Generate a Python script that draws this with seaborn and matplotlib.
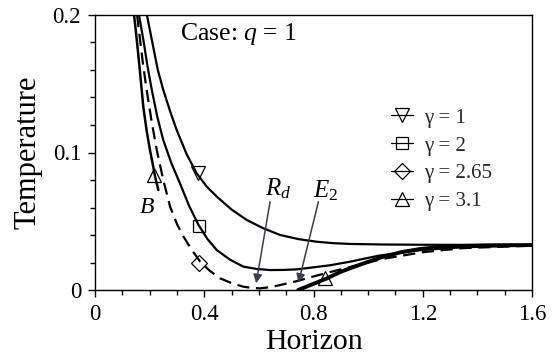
import numpy as np
import pandas as pd
import matplotlib
matplotlib.use("Agg")
import matplotlib.pyplot as plt
from matplotlib.lines import Line2D
from matplotlib.ticker import MultipleLocator
import seaborn as sns

# ---- curve data: temperature vs horizon for four values of gamma ----
x_g1 = [0.190, 0.208, 0.230, 0.250, 0.275, 0.299, 0.335, 0.372, 0.410, 0.446,
        0.500, 0.556, 0.615, 0.678, 0.745, 0.812, 0.870, 0.934, 1.05, 1.20, 1.40, 1.60]
y_g1 = [0.200, 0.182, 0.160, 0.1455, 0.130, 0.1164, 0.099, 0.0849, 0.075, 0.0679,
        0.0585, 0.0509, 0.0450, 0.0400, 0.0370, 0.0351, 0.0341, 0.0335, 0.0331, 0.0329, 0.0328, 0.0327]

x_g2 = [0.161, 0.177, 0.192, 0.208, 0.228, 0.250, 0.280, 0.311, 0.345, 0.379, 0.412,
        0.446, 0.495, 0.543, 0.592, 0.641, 0.690, 0.739, 0.800, 0.861, 0.934, 1.04,
        1.19, 1.34, 1.47, 1.60]
y_g2 = [0.200, 0.182, 0.163, 0.1455, 0.126, 0.109, 0.092, 0.0776, 0.061, 0.0473, 0.037,
        0.029, 0.0220, 0.0170, 0.0153, 0.0145, 0.0146, 0.0150, 0.0165, 0.0180, 0.0206, 0.0250,
        0.0290, 0.0310, 0.0318, 0.0323]

x_g265 = [0.154, 0.165, 0.176, 0.189, 0.207, 0.226, 0.250, 0.275, 0.300, 0.324, 0.355,
          0.385, 0.420, 0.458, 0.500, 0.543, 0.575, 0.604, 0.640, 0.678, 0.730, 0.788,
          0.850, 0.940, 1.05, 1.20, 1.35, 1.60]
y_g265 = [0.200, 0.182, 0.164, 0.1455, 0.123, 0.102, 0.080, 0.0606, 0.048, 0.0388, 0.029,
          0.0206, 0.0140, 0.0085, 0.0050, 0.0024, 0.0015, 0.0012, 0.0020, 0.0036, 0.0060, 0.0092,
          0.0125, 0.0170, 0.0225, 0.0275, 0.0305, 0.0322]

# gamma = 3.1 has two branches: down to point B, and up from E2
x_g31a = [0.143, 0.153, 0.165, 0.177, 0.189, 0.201, 0.212, 0.220, 0.232]
y_g31a = [0.200, 0.182, 0.158, 0.133, 0.116, 0.102, 0.091, 0.0824, 0.0727]
x_g31b = [0.744, 0.800, 0.850, 0.897, 0.950, 1.044, 1.12, 1.19, 1.26, 1.337, 1.45, 1.60]
y_g31b = [0.000, 0.0045, 0.0085, 0.0130, 0.0170, 0.0235, 0.0275, 0.0298, 0.0312, 0.0320, 0.0325, 0.0327]

# marker positions on each curve
mark_x = {"g1": [0.377], "g2": [0.381], "g265": [0.381], "g31": [0.216, 0.842]}
mark_y = {"g1": [0.085], "g2": [0.0465], "g265": [0.020], "g31": [0.0836, 0.0087]}

legend_labels = ["γ = 1", "γ = 2", "γ = 2.65", "γ = 3.1"]

sns.set_theme(style="ticks")
plt.rcParams["font.family"] = ["Liberation Serif", "DejaVu Serif"]
plt.rcParams["mathtext.fontset"] = "custom"
plt.rcParams["mathtext.rm"] = "Liberation Serif"
plt.rcParams["mathtext.it"] = "Liberation Serif:italic"

fig = plt.figure(figsize=(5.52, 3.64), dpi=100)
ax = fig.add_axes([95 / 552, 1 - 290 / 364, 437 / 552, 275 / 364])

def curve(xs, ys, lw=1.6, dashed=False):
    df = pd.DataFrame({"Horizon": xs, "Temperature": ys})
    sns.lineplot(data=df, x="Horizon", y="Temperature", ax=ax, sort=False,
                 estimator=None, color="black", lw=lw)
    if dashed:
        ax.lines[-1].set_dashes([5.5, 3.0])

curve(x_g1, y_g1)
curve(x_g2, y_g2)
curve(x_g265, y_g265, dashed=True)
curve(x_g31a, y_g31a, lw=1.8)
curve(x_g31b, y_g31b, lw=2.8)

mk = {"g1": ("v", 10), "g2": ("s", 9), "g265": ("D", 8), "g31": ("^", 10)}
for key, (m, s) in mk.items():
    ax.plot(mark_x[key], mark_y[key], ls="none", marker=m, ms=s,
            mfc="none", mec="black", mew=0.9)

ax.set_xlim(0, 1.6)
ax.set_ylim(0, 0.2)
ax.xaxis.set_major_locator(MultipleLocator(0.4))
ax.xaxis.set_minor_locator(MultipleLocator(0.1))
ax.yaxis.set_major_locator(MultipleLocator(0.1))
ax.yaxis.set_minor_locator(MultipleLocator(0.02))
ax.set_xticks([0, 0.4, 0.8, 1.2, 1.6])
ax.set_xticklabels(["0", "0.4", "0.8", "1.2", "1.6"])
ax.set_yticks([0, 0.1, 0.2])
ax.set_yticklabels(["0", "0.1", "0.2"])
ax.tick_params(which="major", direction="out", length=5, width=1.0, labelsize=16.5,
               color="black", labelcolor="black", pad=5)
ax.tick_params(which="minor", direction="out", length=3.5, width=1.0, color="black")
for sp in ax.spines.values():
    sp.set_visible(True)
    sp.set_color("black")
    sp.set_linewidth(1.0)
ax.set_facecolor("white")

ax.set_xlabel("Horizon", fontsize=21.5, color="black", labelpad=3)
ax.set_ylabel("Temperature", fontsize=22, color="black", labelpad=7)

ax.text(0.311, 0.1818, "Case: $q$ = 1", fontsize=18.5, color="black", va="baseline")
ax.text(0.19, 0.060, "$B$", fontsize=17, color="black", ha="center", va="center")
ax.text(0.67, 0.074, "$R_d$", fontsize=18, color="black", ha="center", va="center")
ax.text(0.846, 0.072, "$E_2$", fontsize=18, color="black", ha="center", va="center")

arrow_kw = dict(arrowstyle="-|>", color="#3a3d55", lw=1.1, mutation_scale=13,
                shrinkA=0, shrinkB=0)
ax.annotate("", xy=(0.590, 0.0049), xytext=(0.641, 0.0642), arrowprops=arrow_kw)
ax.annotate("", xy=(0.745, 0.0053), xytext=(0.818, 0.0642), arrowprops=arrow_kw)

handles = [Line2D([], [], color="black", lw=0.9, marker=m, ms=s, mfc="none",
                  mec="black", mew=0.9)
           for m, s in [("v", 10), ("s", 9), ("D", 8), ("^", 10)]]
ax.legend(handles, legend_labels, loc="upper left",
          bbox_to_anchor=((391 - 95) / 437, (290 - 108) / 275),
          frameon=False, fontsize=15, handlelength=1.05, handletextpad=0.55,
          labelspacing=0.4, borderpad=0, borderaxespad=0)

fig.savefig("out.png", dpi=100, facecolor="white")
